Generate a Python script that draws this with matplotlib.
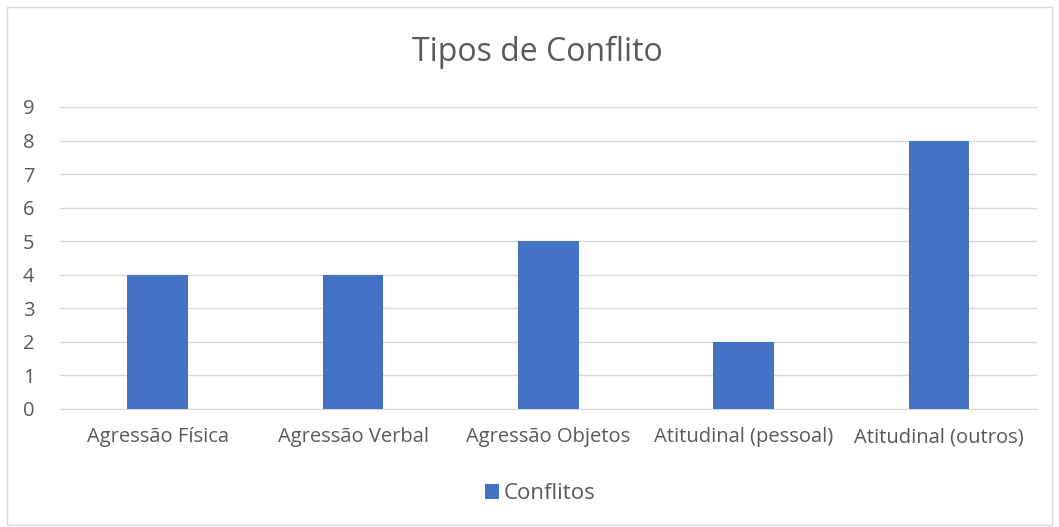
import matplotlib.pyplot as plt
from matplotlib.patches import Rectangle

categorias = ['Agressão Física', 'Agressão Verbal', 'Agressão Objetos',
              'Atitudinal (pessoal)', 'Atitudinal (outros)']
conflitos = [4, 4, 5, 2, 8]
yticks = list(range(0, 10))

plt.rcParams['font.family'] = ['Open Sans', 'DejaVu Sans']
texto = '#595959'

fig = plt.figure(figsize=(10.59, 5.27), dpi=100)
ax = fig.add_axes([0.0567, 0.224, 0.9223, 0.573])

ax.bar(range(len(categorias)), conflitos, width=0.31, color='#4472C4',
       label='Conflitos', zorder=3)
ax.set_xlim(-0.5, len(categorias) - 0.5)
ax.set_ylim(0, 9)
ax.set_yticks(yticks)
ax.set_xticks(range(len(categorias)))
ax.set_xticklabels(categorias)
ax.grid(axis='y', color='#D9D9D9', linewidth=1, zorder=0)
for s in ['top', 'right', 'left']:
    ax.spines[s].set_visible(False)
ax.spines['bottom'].set_color('#D9D9D9')
ax.tick_params(axis='both', length=0, labelsize=14.5, colors=texto)
ax.tick_params(axis='x', pad=13)
ax.tick_params(axis='y', pad=18.5)

fig.text(0.507, 0.9, 'Tipos de Conflito', ha='center', va='center',
         fontsize=23, color=texto)

fig.legend(loc='center', bbox_to_anchor=(0.51, 0.063), frameon=False,
           fontsize=16, labelcolor=texto, handlelength=0.65, handleheight=0.65,
           handletextpad=0.2)

fig.patches.append(Rectangle((7 / 1059, 2 / 527), 1 - 14 / 1059, 1 - 9 / 527,
                             transform=fig.transFigure, fill=False,
                             edgecolor='#D9D9D9', linewidth=1))

fig.savefig('out.png', dpi=100)
